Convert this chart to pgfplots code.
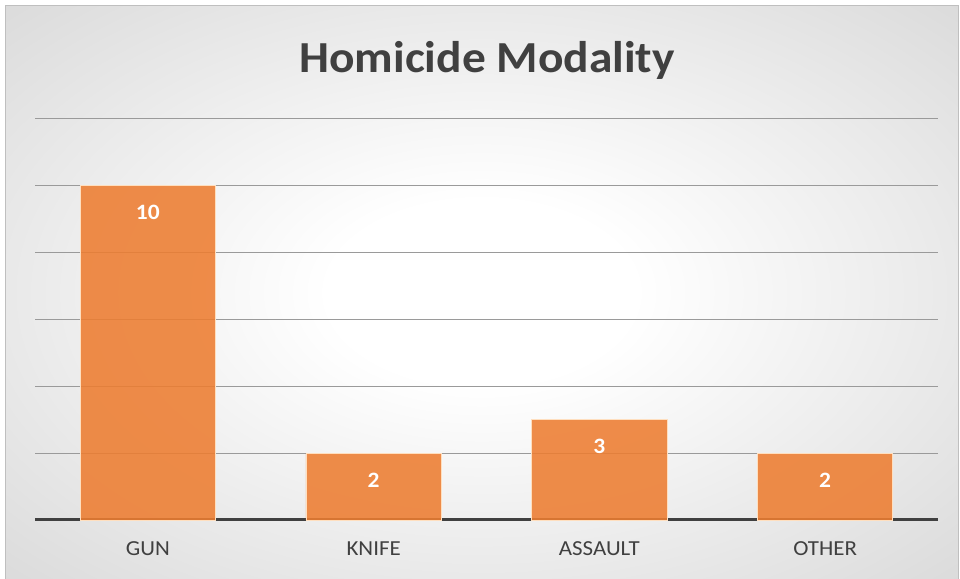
\documentclass[border=0pt]{standalone}
\usepackage{pgfplots}
\pgfplotsset{compat=1.18}
\usepackage{fontspec}
\setmainfont{Carlito}[FakeStretch=1.07]
\definecolor{barorange}{HTML}{ED7D31}
\definecolor{txtgray}{HTML}{404040}
\definecolor{gridgray}{HTML}{9A9A9A}
\pgfdeclareradialshading{bgshade}{\pgfpoint{0bp}{0bp}}{color(0bp)=(white); color(8bp)=(white); color(45bp)=(black!19); color(72bp)=(black!27)}
\begin{document}
\begin{tikzpicture}[x=1bp,y=1bp]
\useasboundingbox (0,0) rectangle (960,579);
\fill[white] (0,0) rectangle (960,579);
\shade[shading=bgshade] (5,0) rectangle (958,573);
\draw[black!25, line width=1bp] (5,-2) rectangle (958,573);
\node[font=\fontsize{44.5}{52}\selectfont\bfseries, text=txtgray] at (487,519) {Homicide Modality};
\begin{axis}[
  at={(35bp,59bp)}, anchor=south west,
  scale only axis, width=903bp, height=401bp,
  xmin=-0.5, xmax=3.5, ymin=0, ymax=12,
  axis x line=bottom, axis y line=left,
  x axis line style={-, line width=3bp, color=txtgray},
  y axis line style={draw=none},
  xtick=data, xticklabels={GUN,KNIFE,ASSAULT,OTHER},
  major tick length=0pt,
  xticklabel style={font=\fontsize{21.5}{24}\selectfont, text=txtgray, yshift=-18bp},
  ytick={2,4,...,12}, yticklabels={},
  ymajorgrids, major grid style={gridgray, line width=1bp},
  clip=false,
]
\addplot[ybar, bar width=0.6, fill=barorange, fill opacity=0.88, draw=orange!25, line width=0.8bp,
  nodes near coords,
  every node near coord/.append style={anchor=center, yshift=-27bp, text=white, text opacity=1,
    font=\fontsize{22}{24}\selectfont\bfseries, /pgf/number format/assume math mode=true}]
  coordinates {(0,10) (1,2) (2,3) (3,2)};
\end{axis}
\end{tikzpicture}
\end{document}
